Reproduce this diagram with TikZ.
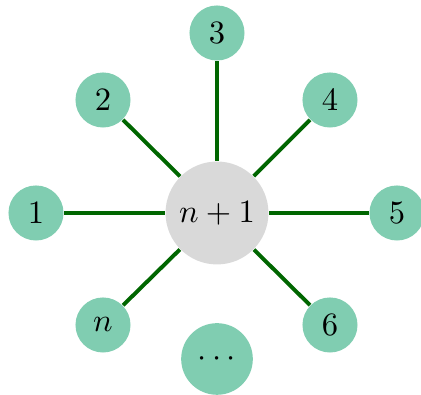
\documentclass[tikz,border=0pt]{standalone}
\usepackage{tikz}
\usetikzlibrary{positioning}
\definecolor{leafteal}{RGB}{128,205,177}
\definecolor{hubgray}{RGB}{217,217,217}
\definecolor{edgegreen}{RGB}{0,102,0}

\begin{document}
\begin{tikzpicture}[
    x=0.307pt, y=-0.307pt,
    leaf/.style={circle, fill=leafteal, minimum size=16.9pt, inner sep=0pt},
    hub/.style={circle, fill=hubgray, minimum size=31.6pt, inner sep=0pt},
    dotsnode/.style={leaf, minimum size=22pt},
    link/.style={draw=edgegreen, line width=1.2pt}
]

% Frame
\useasboundingbox (0,0) rectangle (421,395);

% Centre
\node[hub] (hub) at (217,213) {$n+1$};

% Outer nodes
\node[leaf] (v1) at (36,213) {$1$};
\node[leaf] (v2) at (103,100) {$2$};
\node[leaf] (v3) at (217,33) {$3$};
\node[leaf] (v4) at (330,100) {$4$};
\node[leaf] (v5) at (397,213) {$5$};
\node[leaf] (v6) at (330,325) {$6$};
\node[leaf] (vn) at (103,325) {$n$};
\node[dotsnode] (vdots) at (217,359) {$\cdots$};

% Edges
\draw[link] (v1) -- (hub);
\draw[link] (v2) -- (hub);
\draw[link] (v3) -- (hub);
\draw[link] (v4) -- (hub);
\draw[link] (v5) -- (hub);
\draw[link] (v6) -- (hub);
\draw[link] (vn) -- (hub);

\end{tikzpicture}
\end{document}
